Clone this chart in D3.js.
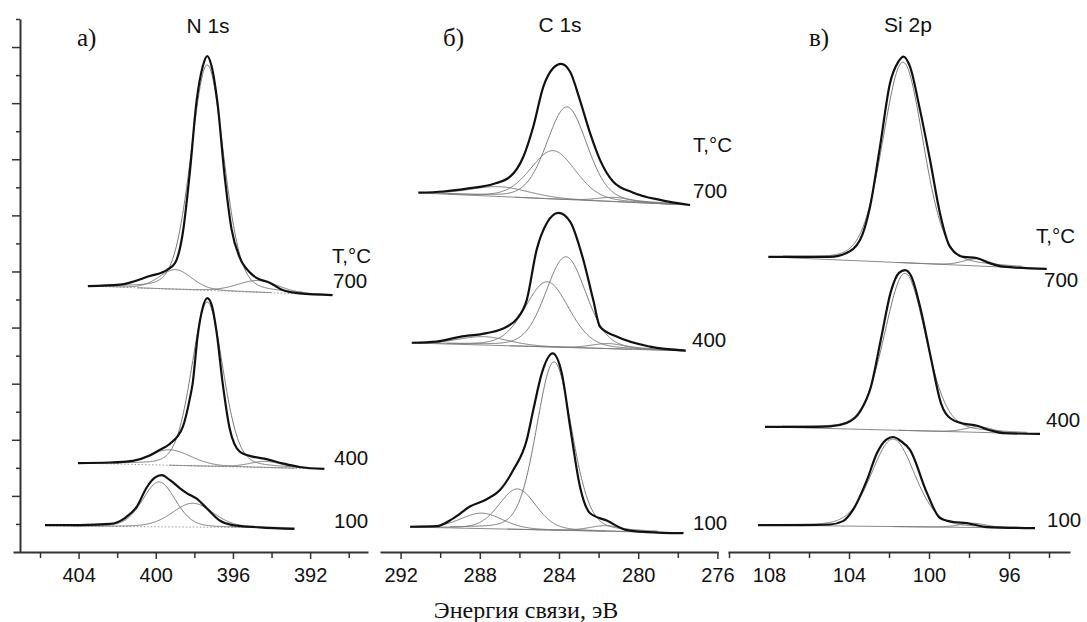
<!DOCTYPE html>
<html>
<head>
<meta charset="utf-8">
<script src="https://cdn.jsdelivr.net/npm/d3@7"></script>
<style>
  body { margin: 0; background: #fff; }
  svg { display: block; }
</style>
</head>
<body>
<script>
// ---- data ----
const panelTitles = ["N 1s", "C 1s", "Si 2p"];
const panelLetters = ["а)", "б)", "в)"];
const tempHeader = "T,°C";
const tempLabels = ["700", "400", "100"];
const xTitle = "Энергия связи, эВ";

// binding energy axes (eV), high -> low
const n1sDomain = [407.4, 389.0];
const c1sDomain = [293.04, 275.97];
const si2pDomain = [110.05, 92.95];
const n1sTicks = [406, 404, 402, 400, 398, 396, 394, 392, 390];
const c1sTicks = [292, 290, 288, 286, 284, 282, 280, 278, 276];
const si2pTicks = [110, 108, 106, 104, 102, 100, 98, 96, 94];

// measured envelopes: [energy eV, intensity a.u.]
const n1s700Env = [[403.52,9.48],[401.86,9.53],[400.31,9.84],[399.43,10.05],[399.0,10.3],[398.6,11.37],[398.24,13.5],[397.88,16.1],[397.57,17.3],[397.33,17.68],[397.1,17.3],[396.8,16.0],[396.43,13.4],[396.07,11.5],[395.65,10.5],[395.1,9.95],[394.78,9.77],[394.1,9.6],[393.43,9.34],[392.55,9.22],[390.84,9.16]];
const n1s400Env = [[404.03,3.17],[402.38,3.19],[401.19,3.25],[400.31,3.44],[399.79,3.64],[399.28,3.85],[398.6,4.46],[398.24,5.45],[398.09,6.0],[397.83,7.7],[397.57,8.7],[397.33,9.05],[397.1,8.8],[396.84,7.8],[396.53,6.0],[396.17,4.4],[395.65,3.58],[394.98,3.4],[394.26,3.31],[393.43,3.16],[392.55,3.03],[391.26,2.96]];
const n1s100Env = [[405.74,0.96],[403.93,0.96],[402.38,1.0],[401.6,1.21],[400.98,1.62],[400.47,2.3],[400.05,2.65],[399.69,2.74],[399.28,2.57],[398.76,2.28],[398.4,2.1],[397.88,1.9],[397.36,1.56],[396.7,1.13],[396.02,0.96],[394.62,0.88],[392.81,0.82]];

const c1s700Env = [[291.1,12.81],[289.84,12.85],[288.5,12.97],[287.32,13.12],[286.47,13.38],[285.8,14.09],[285.3,15.16],[284.79,16.59],[284.29,17.25],[283.9,17.4],[283.44,17.12],[282.94,16.1],[282.43,14.93],[281.93,13.98],[281.26,13.2],[280.25,12.81],[278.9,12.55],[277.38,12.37]];
const c1s400Env = [[291.44,7.46],[290.18,7.5],[289.0,7.67],[287.65,7.8],[286.64,8.03],[286.14,8.3],[285.63,8.98],[285.13,10.77],[284.62,11.72],[284.03,12.09],[283.44,11.78],[282.77,10.41],[282.27,8.98],[281.93,8.03],[281.09,7.68],[279.4,7.32],[277.6,7.18]];
const c1s100Env = [[291.52,0.9],[290.18,0.92],[289.34,1.2],[288.5,1.62],[287.65,1.88],[286.98,2.21],[286.31,2.92],[285.63,3.99],[285.3,5.06],[284.87,6.37],[284.32,7.08],[283.86,6.37],[283.44,4.47],[282.94,2.33],[282.43,1.38],[281.59,1.12],[280.58,0.78],[279.57,0.71],[277.72,0.67]];

const si700Env = [[108.03,10.52],[106.28,10.52],[104.95,10.52],[104.12,10.66],[103.45,11.12],[102.95,12.3],[102.45,14.45],[101.95,16.71],[101.53,17.48],[101.28,17.66],[100.95,17.3],[100.45,15.76],[99.95,13.98],[99.45,12.07],[98.95,10.88],[98.28,10.52],[97.62,10.48],[96.95,10.29],[96.28,10.17],[94.12,10.09]];
const si400Env = [[108.2,4.46],[106.28,4.46],[104.95,4.48],[104.12,4.6],[103.45,5.0],[102.9,5.9],[102.4,7.6],[101.9,9.3],[101.5,9.95],[101.2,10.05],[100.9,9.85],[100.4,8.6],[99.9,6.9],[99.4,5.3],[98.9,4.75],[98.3,4.58],[97.6,4.5],[97.0,4.35],[96.3,4.24],[94.45,4.21]];
const si100Env = [[108.55,0.96],[106.3,0.96],[104.95,0.98],[104.3,1.1],[103.8,1.5],[103.1,2.57],[102.6,3.53],[102.15,4.0],[101.8,4.1],[101.4,3.95],[100.95,3.64],[100.1,2.1],[99.45,1.21],[98.8,1.07],[98.1,1.03],[97.1,0.89],[94.7,0.85]];

// background lines: [E start, I start, E end, I end]
const n1s700Base = [403.5, 9.48, 390.8, 9.16];
const n1s400Base = [404.0, 3.17, 391.3, 2.96];
const n1s100Base = [405.7, 0.93, 392.8, 0.86];
const c1s700Base = [291.1, 12.8, 277.4, 12.37];
const c1s400Base = [291.4, 7.45, 277.6, 7.17];
const c1s100Base = [291.5, 0.89, 277.7, 0.68];
const si700Base = [108.05, 10.52, 94.1, 10.09];
const si400Base = [108.2, 4.46, 94.45, 4.21];
const si100Base = [108.55, 0.96, 94.7, 0.85];

// fitted components: [position eV, height above background, FWHM eV]
const n1s700Peaks = [[397.33, 8.04, 2.0], [398.98, 0.7, 2.0], [394.7, 0.42, 2.5]];
const n1s400Peaks = [[397.33, 5.85, 1.9], [399.28, 0.55, 2.6], [394.3, 0.22, 2.0]];
const n1s100Peaks = [[399.83, 1.6, 2.0], [398.08, 0.85, 2.5]];
const c1s700Peaks = [[283.6, 3.3, 2.4], [284.3, 1.72, 2.7], [287.0, 0.35, 3.5], [281.2, 0.15, 2.0]];
const c1s400Peaks = [[283.65, 3.23, 2.4], [284.6, 2.32, 2.6], [287.8, 0.3, 3.0], [281.5, 0.18, 2.0]];
const c1s100Peaks = [[284.25, 6.0, 2.1], [286.1, 1.44, 2.2], [287.9, 0.55, 2.5], [281.6, 0.2, 2.0]];
const si700Peaks = [[101.3, 7.15, 2.4], [97.6, 0.25, 1.6]];
const si400Peaks = [[101.2, 5.6, 2.45], [97.5, 0.2, 1.6]];
const si100Peaks = [[101.8, 3.12, 2.55], [97.8, 0.15, 1.6]];

// ---- layout ----
const width = 1087;
const height = 622;
const axisY = 552;

const svg = d3.select("body").append("svg")
  .attr("width", width)
  .attr("height", height);

const yscale = d3.scaleLinear().domain([0, 19]).range([axisY, 19]);

const panels = [
  {
    domain: n1sDomain, range: [13, 368], ticks: n1sTicks, dashed: true,
    title: [208, 33], letter: [77, 46],
    spectra: [
      { env: n1s700Env, base: n1s700Base, peaks: n1s700Peaks },
      { env: n1s400Env, base: n1s400Base, peaks: n1s400Peaks },
      { env: n1s100Env, base: n1s100Base, peaks: n1s100Peaks },
    ],
    labels: [[332, 263, tempHeader], [333, 288, tempLabels[0]], [334, 465, tempLabels[1]], [334, 528, tempLabels[2]]],
  },
  {
    domain: c1sDomain, range: [380, 718], ticks: c1sTicks, dashed: false,
    title: [560, 32], letter: [443, 46],
    spectra: [
      { env: c1s700Env, base: c1s700Base, peaks: c1s700Peaks },
      { env: c1s400Env, base: c1s400Base, peaks: c1s400Peaks },
      { env: c1s100Env, base: c1s100Base, peaks: c1s100Peaks },
    ],
    labels: [[693, 152, tempHeader], [693, 198, tempLabels[0]], [692, 347, tempLabels[1]], [693, 530, tempLabels[2]]],
  },
  {
    domain: si2pDomain, range: [728, 1070], ticks: si2pTicks, dashed: false,
    title: [908, 32], letter: [809, 46],
    spectra: [
      { env: si700Env, base: si700Base, peaks: si700Peaks },
      { env: si400Env, base: si400Base, peaks: si400Peaks },
      { env: si100Env, base: si100Base, peaks: si100Peaks },
    ],
    labels: [[1036, 243, tempHeader], [1044, 287, tempLabels[0]], [1046, 427, tempLabels[1]], [1047, 527, tempLabels[2]]],
  },
];

// pseudo-Voigt line shape for a fitted component, kept inside the background range
function component(p, base) {
  const [c, h, w] = p;
  const m = 0.2;
  const hi = Math.min(c + 2.5 * w, base[0]);
  const lo = Math.max(c - 2.5 * w, base[2]);
  const pts = [];
  for (let e = hi; e >= lo; e -= 0.04) {
    const t = (e - c) / w;
    const f = h * ((1 - m) * Math.exp(-4 * Math.LN2 * t * t) + m / (1 + 4 * t * t));
    const b = base[1] + (base[3] - base[1]) * (e - base[0]) / (base[2] - base[0]);
    pts.push([e, b + f]);
  }
  return pts;
}

panels.forEach((p, i) => {
  const xscale = d3.scaleLinear().domain(p.domain).range(p.range);
  const g = svg.append("g");

  const line = d3.line()
    .x((d) => xscale(d[0]))
    .y((d) => yscale(d[1]));
  const smooth = d3.line()
    .x((d) => xscale(d[0]))
    .y((d) => yscale(d[1]))
    .curve(d3.curveMonotoneX);

  p.spectra.forEach((s) => {
    // background
    g.append("path")
      .attr("d", line([[s.base[0], s.base[1]], [s.base[2], s.base[3]]]))
      .attr("fill", "none")
      .attr("stroke", p.dashed ? "#9a9a9a" : "#8a8a8a")
      .attr("stroke-width", 1)
      .attr("stroke-dasharray", p.dashed ? "1.5,2" : null);

    // fitted components
    s.peaks.forEach((pk) => {
      g.append("path")
        .attr("d", line(component(pk, s.base)))
        .attr("fill", "none")
        .attr("stroke", "#7a7a7a")
        .attr("stroke-width", 1);
    });

    // measured envelope
    g.append("path")
      .attr("d", smooth(s.env))
      .attr("fill", "none")
      .attr("stroke", "#111")
      .attr("stroke-width", 2.2)
      .attr("stroke-linejoin", "round");
  });

  // x axis
  const xaxis = d3.axisBottom(xscale)
    .tickValues(p.ticks)
    .tickSize(7)
    .tickSizeOuter(0)
    .tickPadding(9)
    .tickFormat((d) => (d % 4 === 0 ? d : ""));
  const gx = svg.append("g").attr("transform", `translate(0,${axisY})`).call(xaxis);
  gx.select(".domain").attr("stroke", "#333").attr("stroke-width", 2);
  gx.selectAll(".tick line").attr("stroke", "#333").attr("stroke-width", 1.5)
    .attr("y2", (d) => (d % 4 === 0 ? 7 : 6));
  gx.selectAll(".tick text")
    .attr("fill", "#111")
    .style("font-family", "'Liberation Sans', Arial, sans-serif")
    .style("font-size", "20px");

  // panel title and letter
  svg.append("text")
    .attr("x", p.title[0]).attr("y", p.title[1])
    .attr("text-anchor", "middle")
    .style("font-family", "'Liberation Sans', Arial, sans-serif")
    .style("font-size", "21px")
    .attr("fill", "#111")
    .text(panelTitles[i]);
  svg.append("text")
    .attr("x", p.letter[0]).attr("y", p.letter[1])
    .style("font-family", "'Liberation Serif', 'Times New Roman', serif")
    .style("font-size", "25px")
    .attr("fill", "#111")
    .text(panelLetters[i]);

  // temperature labels
  p.labels.forEach((l) => {
    svg.append("text")
      .attr("x", l[0]).attr("y", l[1])
      .style("font-family", "'Liberation Sans', Arial, sans-serif")
      .style("font-size", "20.5px")
      .attr("fill", "#111")
      .text(l[2]);
  });
});

// y axis (arbitrary intensity, no labels)
const yaxis = d3.axisLeft(yscale)
  .tickValues(d3.range(1, 20))
  .tickSize(8)
  .tickSizeOuter(0)
  .tickFormat("");
const gy = svg.append("g").attr("transform", "translate(20,0)").call(yaxis);
gy.select(".domain").attr("stroke", "#333").attr("stroke-width", 2);
gy.selectAll(".tick line").attr("stroke", "#333").attr("stroke-width", 1.5)
  .attr("x2", (d) => (d % 2 === 0 ? -8 : -4));

// x axis title
svg.append("text")
  .attr("x", 526).attr("y", 618)
  .attr("text-anchor", "middle")
  .style("font-family", "'Liberation Serif', 'Times New Roman', serif")
  .style("font-size", "24px")
  .attr("fill", "#111")
  .text(xTitle);
</script>
</body>
</html>
